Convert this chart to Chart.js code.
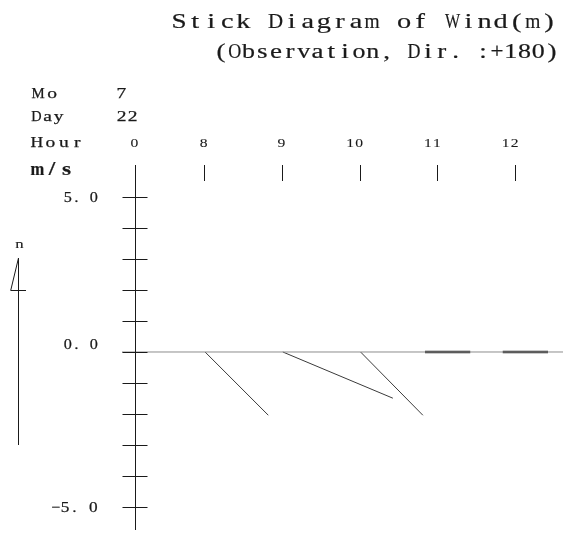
<!DOCTYPE html>
<html><head><meta charset="utf-8">
<script src="https://cdn.jsdelivr.net/npm/chart.js@4/dist/chart.umd.min.js"></script>
<style>html,body{margin:0;padding:0;background:#fff}canvas{display:block}</style>
</head><body>
<canvas id="c" width="571" height="534"></canvas>
<script>
// ---- data ----
const titleText = 'Stick Diagram of Wind(m)';
const subtitleText = '(Observation, Dir. :+180)';
const monthValue = '7';
const dayValue = '22';
const hourLabels = ['0', '8', '9', '10', '11', '12'];
// wind components (m/s), first column is the axis itself
const windU = [null, 2.04, 3.55, 2.01, 0, 0];
const windV = [null, -2.04, -1.49, -2.04, 0, 0];
const yMajorValues = [5, 0, -5];
const yMajorLabels = ['5. 0', '0. 0', '\u22125. 0'];
const yMinorStep = 1;

// ---- layout (x axis in m/s so sticks keep their true angle) ----
const X_MIN = -0.42, X_MAX = 13.806;
const Y_MIN = -5.74, Y_MAX = 6.03;
const SLOT_START = 2.23, SLOT_STEP = 2.508;
const slotX = i => (i === 0 ? 0 : SLOT_START + (i - 1) * SLOT_STEP);
const FONT = '"Liberation Serif", "DejaVu Serif", serif';
const INK = '#1a1a1a';

const datasets = [];
// zero reference line
datasets.push({
  data: [{x: X_MIN, y: 0}, {x: X_MAX, y: 0}],
  borderColor: '#8c8c8c', borderWidth: 1
});
for (let i = 1; i < hourLabels.length; i++) {
  const u = windU[i], v = windV[i];
  if (u === null) continue;
  const base = slotX(i);
  if (u === 0 && v === 0) {
    // calm marker
    datasets.push({
      data: [{x: base - 0.4, y: 0}, {x: base + 1.06, y: 0}],
      borderColor: '#2e2e2e', borderWidth: 2.5
    });
  } else {
    datasets.push({
      data: [{x: base + 0.03, y: 0}, {x: base + 0.03 + u, y: v}],
      borderColor: '#3a3a3a', borderWidth: 1
    });
  }
}

// Fixed-pitch text: every character centred in its own cell, widened by
// `stretch` but never wider than the cell.
function cellText(ctx, text, x0, cell, y, font, weight, stretch) {
  const st = stretch === undefined ? 1.3 : stretch;
  ctx.save();
  ctx.font = font;
  ctx.textAlign = 'center';
  ctx.textBaseline = 'alphabetic';
  ctx.fillStyle = INK;
  ctx.strokeStyle = INK;
  ctx.lineWidth = weight === undefined ? 0.3 : weight;
  for (let i = 0; i < text.length; i++) {
    const ch = text[i];
    if (ch === ' ') continue;
    const cx = x0 + cell * (i + 0.5);
    const w = ctx.measureText(ch).width;
    const sx = Math.min(st, (cell * 0.94) / w);
    ctx.save();
    ctx.translate(cx, y);
    ctx.scale(sx, 1);
    ctx.fillText(ch, 0, 0);
    if (ctx.lineWidth > 0) ctx.strokeText(ch, 0, 0);
    ctx.restore();
  }
  ctx.restore();
}
const spanText = (ctx, text, x0, x1, y, font, weight, stretch) =>
  cellText(ctx, text, x0, (x1 - x0) / text.length, y, font, weight, stretch);
const rightText = (ctx, text, xr, cell, y, font, weight, stretch) =>
  cellText(ctx, text, xr - cell * text.length, cell, y, font, weight, stretch);

function line(ctx, x0, y0, x1, y1) {
  ctx.beginPath(); ctx.moveTo(x0, y0); ctx.lineTo(x1, y1); ctx.stroke();
}

const decorations = {
  id: 'stickDecorations',
  afterDraw(chart) {
    const ctx = chart.ctx;
    const xs = chart.scales.x, ys = chart.scales.y;
    const ax = Math.round(xs.getPixelForValue(0)) + 0.5;
    const top = ys.getPixelForValue(Y_MAX), bottom = ys.getPixelForValue(Y_MIN);
    ctx.save();
    ctx.strokeStyle = INK;
    ctx.lineWidth = 1;
    // vertical speed axis
    line(ctx, ax, top, ax, bottom);
    for (let v = -5; v <= 5; v += yMinorStep) {
      const py = Math.round(ys.getPixelForValue(v)) + 0.5;
      line(ctx, ax - 13, py, ax + 12, py);
    }
    // hour ticks
    for (let i = 1; i < hourLabels.length; i++) {
      const px = Math.round(xs.getPixelForValue(slotX(i))) + 0.5;
      line(ctx, px, top, px, top + 16);
    }
    // north arrow
    ctx.beginPath();
    ctx.moveTo(18.5, 445); ctx.lineTo(18.5, 258);
    ctx.lineTo(10.7, 290.5); ctx.lineTo(26, 290.5);
    ctx.stroke();
    ctx.restore();

    cellText(ctx, 'n', 14, 11, 248, '12px ' + FONT, 0.1, 1.4);

    // y tick labels
    yMajorValues.forEach((v, k) => {
      const py = ys.getPixelForValue(v) + (v === 0 ? -2.5 : 5);
      const txt = yMajorLabels[k];
      rightText(ctx, txt, 98, txt.length > 4 ? 9.4 : 8.6, py, '15px ' + FONT, 0.25, 1.15);
    });

    // header table
    spanText(ctx, 'Mo', 31, 59, 97.5, '15px ' + FONT, 0.25);
    spanText(ctx, 'Day', 31, 64, 120.5, '15px ' + FONT, 0.25);
    spanText(ctx, 'Hour', 30, 84, 147, '15px ' + FONT, 0.25);
    spanText(ctx, 'm/s', 30, 74, 175, 'bold 18px ' + FONT, 0.2);
    cellText(ctx, monthValue, 116, 10.5, 97.5, '15px ' + FONT, 0.25);
    cellText(ctx, dayValue, 116, 11, 120.5, '15px ' + FONT, 0.25);
    hourLabels.forEach((h, i) => {
      const px = xs.getPixelForValue(slotX(i)) + 4;
      rightText(ctx, h, px, 9, 147, '13px ' + FONT, 0.1, 1.2);
    });

    // titles
    spanText(ctx, titleText, 171, 557, 27.5, '21px ' + FONT, 0.2, 1.35);
    spanText(ctx, subtitleText, 214, 559, 57.5, '20px ' + FONT, 0.2, 1.35);
  }
};

new Chart(document.getElementById('c'), {
  type: 'scatter',
  data: {datasets},
  options: {
    responsive: false,
    devicePixelRatio: 1,
    animation: false,
    showLine: true,
    layout: {padding: {left: 122, top: 165, right: 8, bottom: 4}},
    elements: {point: {radius: 0, hoverRadius: 0}, line: {tension: 0}},
    plugins: {legend: {display: false}, tooltip: {enabled: false}},
    scales: {
      x: {type: 'linear', min: X_MIN, max: X_MAX, display: false},
      y: {type: 'linear', min: Y_MIN, max: Y_MAX, display: false}
    }
  },
  plugins: [decorations]
});
</script>
</body></html>
